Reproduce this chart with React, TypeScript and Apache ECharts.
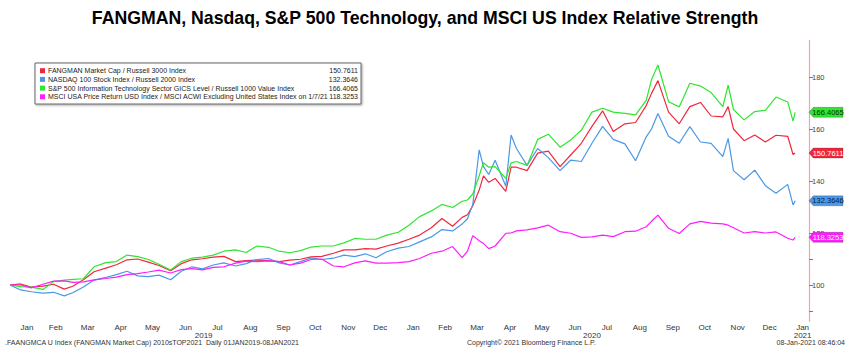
import React, { useEffect, useRef } from 'react';
import * as echarts from 'echarts';

const dates = [
  '2019-01-01','2019-01-11','2019-01-21','2019-02-01','2019-02-11','2019-02-21','2019-03-01','2019-03-11','2019-03-21',
  '2019-04-01','2019-04-11','2019-04-21','2019-05-01','2019-05-11','2019-05-21','2019-06-01','2019-06-11','2019-06-21',
  '2019-07-01','2019-07-11','2019-07-21','2019-08-01','2019-08-11','2019-08-21','2019-09-01','2019-09-11','2019-09-21',
  '2019-10-01','2019-10-11','2019-10-21','2019-11-01','2019-11-11','2019-11-21','2019-12-01','2019-12-11','2019-12-21',
  '2020-01-01','2020-01-11','2020-01-21','2020-02-01','2020-02-11','2020-02-21','2020-03-01','2020-03-06','2020-03-11',
  '2020-03-17','2020-03-21','2020-03-26','2020-04-01','2020-04-11','2020-04-16','2020-04-21','2020-05-01','2020-05-11',
  '2020-05-21','2020-06-01','2020-06-11','2020-06-21','2020-07-01','2020-07-11','2020-07-21','2020-08-01','2020-08-11',
  '2020-08-21','2020-08-26','2020-09-01','2020-09-11','2020-09-21','2020-10-01','2020-10-11','2020-10-21','2020-11-01',
  '2020-11-06','2020-11-11','2020-11-21','2020-12-01','2020-12-11','2020-12-21','2021-01-01','2021-01-06','2021-01-08'
];

const fangman = [
  100, 100.4, 99.2, 99.6, 100.3, 98.4, 99.5, 102, 105.1,
  106.5, 107.8, 109.7, 110, 108.8, 107.5, 105.5, 108.2, 109.7,
  110.1, 110.7, 111, 109, 109.4, 109.6, 109.4, 109, 109.6,
  109.9, 110.8, 111, 112.2, 113.5, 113.5, 114, 113.8, 115,
  116.1, 117.6, 119.2, 122, 125.6, 122.6, 126, 127, 130.5,
  136.5, 142, 139.5, 141, 136, 145.3, 145.3, 144, 150.7,
  151.5, 145.5, 150, 154.5, 161, 167, 159, 162, 162.5,
  169, 173.7, 178.6, 166.5, 162, 168.6, 170.2, 165, 164.7,
  168.6, 160, 155.5, 157.7, 155, 157.6, 157.2, 150.2, 150.7611
];

const nasdaq = [
  100, 98.1, 97.4, 96.9, 97.2, 95.8, 97, 99.2, 101.9,
  102.9, 104, 105.3, 103.5, 103.2, 103.8, 102, 105.3, 107,
  106.2, 107.7, 108.5, 107.3, 108.2, 109.8, 110.2, 108.5, 107.7,
  109, 110.4, 109.8, 110.3, 111.5, 110.9, 112, 110.5, 112.8,
  114.2, 114.8, 116.6, 118.5, 121.3, 120.8, 123.5, 125.5, 131,
  152, 145.5, 142.5, 148, 138, 157.7, 152.5, 146, 152.5,
  149, 144, 148, 147.5, 154.5, 161, 156, 154.3, 147.8,
  157, 160, 166, 157.2, 154.5, 160.9, 155, 154.5, 149.4,
  156.4, 144, 140.5, 144.2, 138.2, 135.3, 138.7, 130.8, 132.3646
];

const spTech = [
  100, 99.4, 99.2, 98.3, 101.3, 101.9, 102.2, 102.4, 107,
  108.6, 109, 111.5, 110.9, 109.8, 108, 105.8, 109, 110.3,
  110.7, 111.5, 113, 113.5, 112.5, 115, 114.5, 113, 112.4,
  113.2, 114.6, 115, 115, 116.2, 117.9, 117.6, 117.6, 119.2,
  120.3, 123, 126.3, 128.5, 131, 129.8, 132.2, 132.7, 135,
  142, 147, 145.3, 145.5, 141, 147, 147.5, 146, 156,
  158, 153, 155.8, 159.5, 166.5, 168, 166.5, 166, 165.4,
  171, 179, 184.6, 170.5, 168.5, 177.6, 176.5, 174, 168.6,
  176.9, 167.5, 163.5, 166.7, 167.2, 172.3, 170.4, 163, 166.4065
];

const msci = [
  100, 100, 98.9, 100.3, 101.5, 101.6, 101, 101.2, 102,
  102.5, 103, 104, 104.4, 105, 105.7, 104.6, 105.9, 106.3,
  105.8, 106.8, 107, 108.4, 109.2, 109, 109.3, 109, 107.7,
  108.4, 109.8, 110, 107.3, 107, 108.5, 109.3, 108.4, 108.4,
  108.6, 109, 110.2, 112.2, 113, 114.8, 110.5, 113, 119,
  117, 116, 114, 115, 119.9, 120, 120.8, 121.2, 122,
  123, 120.5, 119.9, 118.3, 118.5, 119.2, 118.6, 120.5, 120.7,
  122.4, 124.5, 126.9, 121.8, 119.8, 123.5, 124.5, 123.8, 123.5,
  123, 122, 120, 120.5, 120, 120.4, 118, 117.3, 118.3253
];

const seriesNames = [
  'FANGMAN Market Cap / Russell 3000 Index',
  'NASDAQ 100 Stock Index / Russell 2000 Index',
  'S&P 500 Information Technology Sector GICS Level / Russell 1000 Value Index',
  'MSCI USA Price Return USD Index / MSCI ACWI Excluding United States Index on 1/7/21'
];
const seriesData = [fangman, nasdaq, spTech, msci];
const seriesColors = ['#f0283c', '#4a98e6', '#2fe52f', '#ff1cff'];
const tagTextColors = ['#ffffff', '#0a1a40', '#0a300a', '#ffffff'];

const monthLabels = ['Jan','Feb','Mar','Apr','May','Jun','Jul','Aug','Sep','Oct','Nov','Dec',
  'Jan','Feb','Mar','Apr','May','Jun','Jul','Aug','Sep','Oct','Nov','Dec','Jan'];
const monthLabelDates = ['2019-01-17','2019-02-13','2019-03-15','2019-04-15','2019-05-15','2019-06-15','2019-07-15',
  '2019-08-15','2019-09-15','2019-10-15','2019-11-15','2019-12-15','2020-01-15','2020-02-14','2020-03-15','2020-04-15',
  '2020-05-15','2020-06-15','2020-07-15','2020-08-15','2020-09-15','2020-10-15','2020-11-15','2020-12-15','2021-01-15'];
const yearLabels = ['2019', '2020', '2021'];
const yearLabelDates = ['2019-07-02', '2020-07-01', '2021-01-15'];
const yTickLabels = [100, 120, 140, 160, 180];
const yTickValues = [90, 100, 110, 120, 140, 160, 180];

const X_MIN = '2019-01-01';
const X_MAX = '2021-01-21';
const FONT = 'Liberation Sans';

function toTs(s: string) {
  const [y, m, d] = s.split('-').map(Number);
  return Date.UTC(y, m - 1, d);
}

export default function App() {
  const ref = useRef<HTMLDivElement>(null);
  useEffect(() => {
    document.body.style.margin = '0';
    if (!ref.current) return;
    const chart = echarts.init(ref.current, undefined, { renderer: 'svg' });
    const monthVals = monthLabelDates.map(toTs);
    const yearVals = yearLabelDates.map(toTs);
    const xMin = toTs(X_MIN);
    const xMax = toTs(X_MAX);
    const pick = (vals: number[], labels: string[]) => (v: number) => {
      const i = vals.findIndex((t) => Math.abs(t - v) < 43200000);
      return i >= 0 ? labels[i] : '';
    };

    const series = seriesData.map((vals, k) => {
      const last = vals[vals.length - 1];
      return {
        name: seriesNames[k],
        type: 'line',
        symbol: 'none',
        data: dates.map((d, i) => [toTs(d), vals[i]]),
        lineStyle: { color: seriesColors[k], width: 1.2 },
        itemStyle: { color: seriesColors[k] },
        z: 2 + k,
        markPoint: {
          silent: true,
          symbol: 'path://M0,5L5,0L40,0L40,10L5,10Z',
          symbolSize: [34, 10],
          symbolOffset: [17, 0],
          symbolKeepAspect: false,
          itemStyle: { color: seriesColors[k], borderColor: 'rgba(0,0,0,0.35)', borderWidth: 0.5 },
          label: {
            show: true,
            position: 'inside',
            offset: [2, 0],
            formatter: () => last.toFixed(4),
            color: tagTextColors[k],
            fontSize: 7.5,
            fontFamily: FONT,
          },
          data: [{ coord: [xMax, last] }],
        },
      };
    });

    const legendTop = 63;
    const rowH = 8.7;
    const legendChildren: any[] = [
      {
        type: 'rect',
        shape: { x: 35, y: legendTop, width: 326, height: 41 },
        style: { fill: '#fff', stroke: '#666', lineWidth: 1, shadowBlur: 2, shadowOffsetX: 1, shadowOffsetY: 1, shadowColor: 'rgba(0,0,0,0.35)' },
      },
    ];
    seriesNames.forEach((name, k) => {
      const cy = legendTop + 7.7 + rowH * k;
      legendChildren.push({
        type: 'rect',
        shape: { x: 40, y: cy - 2.5, width: 5, height: 5 },
        style: { fill: seriesColors[k] },
      });
      legendChildren.push({
        type: 'text',
        x: 48,
        y: cy,
        style: { text: name, fontSize: 7, fontFamily: FONT, fill: '#222', align: 'left', verticalAlign: 'middle' },
      });
      const vals = seriesData[k];
      legendChildren.push({
        type: 'text',
        x: 358,
        y: cy,
        style: { text: vals[vals.length - 1].toFixed(4), fontSize: 7, fontFamily: FONT, fill: '#222', align: 'right', verticalAlign: 'middle' },
      });
    });

    const footStyle = { fontSize: 7, fontFamily: FONT, fill: '#333', verticalAlign: 'middle' };

    chart.setOption({
      animation: false,
      backgroundColor: '#fff',
      title: {
        text: 'FANGMAN, Nasdaq, S&P 500 Technology, and MSCI US Index Relative Strength',
        left: 'center',
        top: 4,
        textStyle: { fontSize: 17.7, fontWeight: 'bold', fontFamily: FONT, color: '#000' },
      },
      grid: { left: 10, right: 41, top: 40.6, bottom: 33.6 },
      xAxis: [
        {
          type: 'value',
          min: xMin,
          max: xMax,
          axisLine: { show: false },
          axisTick: { show: false },
          splitLine: { show: false },
          axisLabel: {
            customValues: monthVals,
            formatter: pick(monthVals, monthLabels),
            fontSize: 8,
            fontFamily: FONT,
            color: '#333',
            margin: 2,
            hideOverlap: false,
            showMinLabel: true,
            showMaxLabel: true,
          },
        },
        {
          type: 'value',
          min: xMin,
          max: xMax,
          position: 'bottom',
          axisLine: { show: false },
          axisTick: { show: false },
          splitLine: { show: false },
          axisLabel: {
            customValues: yearVals,
            formatter: pick(yearVals, yearLabels),
            fontSize: 8,
            fontFamily: FONT,
            color: '#333',
            margin: 10,
          },
        },
      ],
      yAxis: {
        type: 'value',
        position: 'right',
        min: 86,
        max: 194,
        splitLine: { show: false },
        axisLine: { show: true, lineStyle: { color: '#f4a3aa', width: 1.2 } },
        axisTick: { show: true, customValues: yTickValues, length: 4, lineStyle: { color: '#d9505c' } },
        axisLabel: { customValues: yTickLabels, fontSize: 7.5, fontFamily: FONT, color: '#444', margin: 3 },
      },
      series,
      graphic: [
        { type: 'group', children: legendChildren },
        { type: 'text', x: 5, y: 342, style: { ...footStyle, align: 'left', text: '.FAANGMCA U Index (FANGMAN Market Cap) 2010sTOP2021  Daily 01JAN2019-08JAN2021' } },
        { type: 'text', x: 467, y: 342, style: { ...footStyle, align: 'left', text: 'Copyright\u00A9 2021 Bloomberg Finance L.P.' } },
        { type: 'text', x: 845, y: 342, style: { ...footStyle, align: 'right', text: '08-Jan-2021 08:46:04' } },
      ],
    });
    return () => chart.dispose();
  }, []);
  return <div ref={ref} style={{ width: 850, height: 355 }} />;
}
